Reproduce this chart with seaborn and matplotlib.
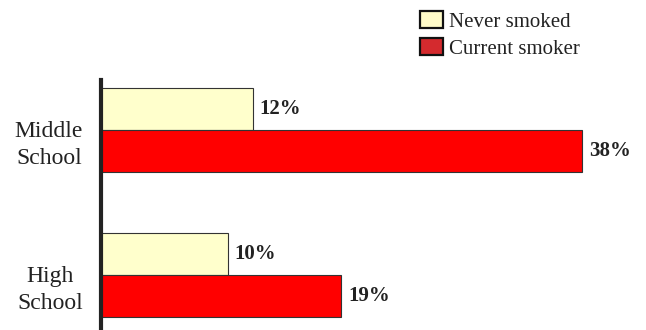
import matplotlib
matplotlib.use("Agg")
import matplotlib.pyplot as plt
import matplotlib.transforms as mtransforms
from matplotlib.patches import Patch
import seaborn as sns
import pandas as pd

categories = ["Middle\nSchool", "High\nSchool"]
series = ["Never smoked", "Current smoker"]
never_smoked = [12, 10]
current_smoker = [38, 19]

bar_colors = ["#FFFFCC", "#FF0000"]
legend_colors = ["#FFFBC8", "#D42A2E"]

rows = []
for i, c in enumerate(categories):
    rows.append({"level": c, "status": series[0], "pct": never_smoked[i]})
    rows.append({"level": c, "status": series[1], "pct": current_smoker[i]})
df = pd.DataFrame(rows)

sns.set_style("white")
plt.rcParams["font.family"] = ["Liberation Serif", "DejaVu Serif"]

fig = plt.figure(figsize=(6.46, 3.30), dpi=100)
ax = fig.add_axes([101 / 646, 0.0, 506 / 646, 250 / 330])

sns.barplot(data=df, y="level", x="pct", hue="status", order=categories,
            hue_order=series, palette=bar_colors, saturation=1, orient="h",
            width=0.58, edgecolor="#333333", linewidth=0.8, legend=False, ax=ax)

for cont in ax.containers:
    ax.bar_label(cont, labels=[f"{int(b.get_width())}%" for b in cont],
                 padding=5, fontsize=15, fontweight="bold", color="#222222")

ax.set_xlim(0, 40)
ax.set_ylim(1.379, -0.345)
ax.set_xlabel("")
ax.set_ylabel("")
ax.set_xticks([])
ax.tick_params(axis="y", length=0, pad=13, labelsize=17, labelcolor="#222222")
offset = mtransforms.ScaledTranslation(0, -9 / 100, fig.dpi_scale_trans)
for lab in ax.get_yticklabels():
    lab.set_multialignment("center")
    lab.set_linespacing(1.4)
    lab.set_transform(lab.get_transform() + offset)

for s in ["top", "right", "bottom"]:
    ax.spines[s].set_visible(False)
ax.spines["left"].set_linewidth(3)
ax.spines["left"].set_color("#222222")

handles = [Patch(facecolor=legend_colors[i], edgecolor="#111111", linewidth=1.6,
                 label=series[i]) for i in range(2)]
fig.legend(handles=handles, loc="upper left",
           bbox_to_anchor=(420 / 646, 1 - 11 / 330), bbox_transform=fig.transFigure,
           frameon=False, fontsize=15, handlelength=1.1, handleheight=0.87,
           handletextpad=0.3, labelspacing=0.3, borderpad=0, borderaxespad=0,
           labelcolor="#222222")

fig.savefig("out.png", dpi=100)
